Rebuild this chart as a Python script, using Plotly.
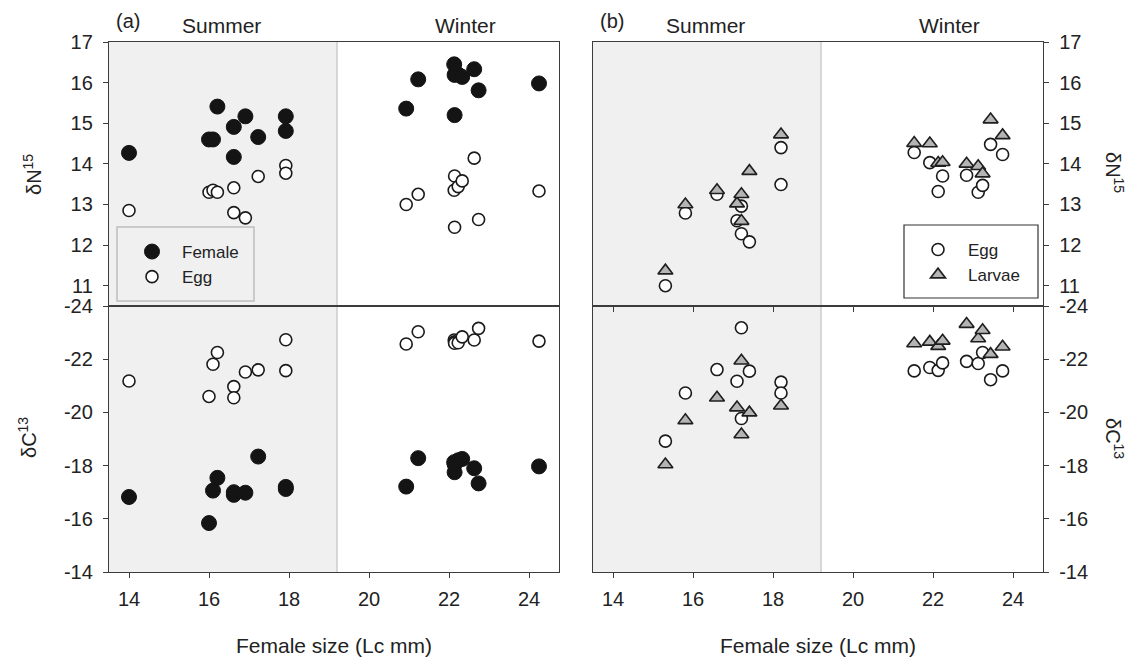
import plotly.graph_objects as go

# ---------------- data ----------------
# Panel (a): female size, female & egg isotopes (summer then winter)
a_size = [14.0, 16.0, 16.1, 16.21, 16.62, 16.62, 16.91, 17.23, 17.92, 17.92,
          20.93, 21.23, 22.13, 22.14, 22.14, 22.23, 22.33, 22.63, 22.74, 24.25]
a_female_n15 = [14.27, 14.60, 14.60, 15.41, 14.91, 14.17, 15.17, 14.66, 15.17, 14.81,
                15.36, 16.08, 16.45, 16.19, 15.20, 16.20, 16.14, 16.33, 15.81, 15.98]
a_egg_n15 = [12.85, 13.30, 13.35, 13.30, 13.41, 12.80, 12.67, 13.69, 13.96, 13.77,
             13.00, 13.25, 13.35, 13.70, 12.44, 13.44, 13.58, 14.14, 12.63, 13.33]
a_female_c13 = [-16.82, -15.84, -17.06, -17.54, -17.00, -16.90, -16.98, -18.34, -17.20, -17.12,
                -17.21, -18.28, -18.13, -17.75, -18.05, -18.20, -18.25, -17.90, -17.33, -17.97]
a_egg_c13 = [-21.18, -20.60, -21.81, -22.25, -20.97, -20.55, -21.52, -21.60, -22.73, -21.57,
             -22.57, -23.03, -22.72, -22.65, -22.60, -22.62, -22.84, -22.72, -23.16, -22.68]

# Panel (b): egg and larvae isotopes vs female size
b_egg_size = [15.31, 15.81, 16.6, 17.1, 17.21, 17.21, 17.41, 18.2, 18.2,
              21.53, 21.92, 22.13, 22.24, 22.84, 23.13, 23.24, 23.44, 23.74]
b_egg_n15 = [11.00, 12.79, 13.25, 12.60, 12.96, 12.28, 12.08, 14.40, 13.49,
             14.28, 14.03, 13.32, 13.70, 13.72, 13.30, 13.47, 14.48, 14.23]
b_egg_c13 = [-18.92, -20.73, -21.61, -21.17, -23.18, -19.77, -21.55, -21.14, -20.73,
             -21.56, -21.69, -21.58, -21.86, -21.92, -21.84, -22.25, -21.23, -21.56]
b_larvae_size = [15.31, 15.81, 16.6, 17.1, 17.21, 17.21, 17.41, 18.2,
                 21.53, 21.92, 22.13, 22.24, 22.84, 23.13, 23.24, 23.44, 23.74]
b_larvae_n15 = [11.37, 13.00, 13.35, 13.02, 13.25, 12.59, 13.82, 14.72,
                14.51, 14.50, 14.02, 14.04, 14.00, 13.94, 13.76, 15.09, 14.70]
b_larvae_c13 = [-18.04, -19.70, -20.55, -20.18, -21.94, -19.17, -19.99, -20.25,
                -22.59, -22.65, -22.49, -22.69, -23.32, -22.78, -23.09, -22.19, -22.47]

x_ticks = [14, 16, 18, 20, 22, 24]
n15_ticks = [11, 12, 13, 14, 15, 16, 17]
c13_ticks = [-24, -22, -20, -18, -16, -14]
c13_tick_labels = ["-24", "-22", "-20", "-18", "-16", "-14"]
x_range = [13.5, 24.75]
n15_range = [10.5, 17]
c13_range = [-14, -24]
summer_limit = 19.2
season_labels = ["Summer", "Winter"]
panel_labels = ["(a)", "(b)"]
x_title = "Female size (Lc mm)"

# ---------------- layout helpers ----------------
W, H = 1135, 664
FONT = "Liberation Sans, Arial, sans-serif"
TXT = "#222222"
AXC = "#3c3c3c"

def px(x):
    return x / W

def py(y):
    return 1 - y / H

xa_dom = [px(109), px(559)]
xb_dom = [px(593), px(1043)]
ytop_dom = [py(306), py(42)]
ybot_dom = [py(572), py(306)]

fig = go.Figure()

female_marker = dict(symbol="circle", size=15, color="#141414", line=dict(color="#141414", width=1))
egg_marker = dict(symbol="circle", size=12, color="white", line=dict(color="#1a1a1a", width=1.6))
larvae_marker = dict(symbol="triangle-up", size=13, color="#b4b4b4", line=dict(color="#1e1e1e", width=1.6))

# panel (a)
fig.add_trace(go.Scatter(x=a_size, y=a_female_n15, mode="markers", marker=female_marker,
                         name="Female", legend="legend", xaxis="x", yaxis="y"))
fig.add_trace(go.Scatter(x=a_size, y=a_egg_n15, mode="markers", marker=egg_marker,
                         name="Egg", legend="legend", xaxis="x", yaxis="y"))
fig.add_trace(go.Scatter(x=a_size, y=a_female_c13, mode="markers", marker=female_marker,
                         name="Female", showlegend=False, xaxis="x2", yaxis="y2"))
fig.add_trace(go.Scatter(x=a_size, y=a_egg_c13, mode="markers", marker=egg_marker,
                         name="Egg", showlegend=False, xaxis="x2", yaxis="y2"))
# panel (b)
fig.add_trace(go.Scatter(x=b_egg_size, y=b_egg_n15, mode="markers", marker=egg_marker,
                         name="Egg", legend="legend2", xaxis="x3", yaxis="y3"))
fig.add_trace(go.Scatter(x=b_larvae_size, y=b_larvae_n15, mode="markers", marker=larvae_marker,
                         name="Larvae", legend="legend2", xaxis="x3", yaxis="y3"))
fig.add_trace(go.Scatter(x=b_egg_size, y=b_egg_c13, mode="markers", marker=egg_marker,
                         name="Egg", showlegend=False, xaxis="x4", yaxis="y4"))
fig.add_trace(go.Scatter(x=b_larvae_size, y=b_larvae_c13, mode="markers", marker=larvae_marker,
                         name="Larvae", showlegend=False, xaxis="x4", yaxis="y4"))

tickfont = dict(family=FONT, size=20, color=TXT)

def xaxis(dom, anchor, ticks, labels):
    return dict(domain=dom, anchor=anchor, range=x_range, tickvals=x_ticks,
                ticks=ticks, ticklen=5, tickcolor=AXC, tickwidth=1.2,
                showticklabels=labels, tickfont=tickfont, ticklabelstandoff=4,
                showline=True, linecolor=AXC, linewidth=1.3, mirror=True,
                showgrid=False, zeroline=False, automargin=False)

def yaxis(dom, anchor, rng, tv, tt, side):
    return dict(domain=dom, anchor=anchor, range=rng, tickvals=tv, ticktext=tt, side=side,
                ticks="outside", ticklen=5, tickcolor=AXC, tickwidth=1.2,
                tickfont=tickfont, ticklabelstandoff=6,
                showline=True, linecolor=AXC, linewidth=1.3, mirror=True,
                showgrid=False, zeroline=False, automargin=False)

shapes = []
for xr, yr in [("x", "y"), ("x2", "y2"), ("x3", "y3"), ("x4", "y4")]:
    shapes.append(dict(type="rect", xref=xr, yref=yr + " domain", x0=x_range[0], x1=summer_limit,
                       y0=0, y1=1, fillcolor="#f0f0f0", line=dict(width=0), layer="below"))
    shapes.append(dict(type="line", xref=xr, yref=yr + " domain", x0=summer_limit, x1=summer_limit,
                       y0=0, y1=1, line=dict(color="#cdcdcd", width=1.5), layer="below"))
# legend boxes
shapes.append(dict(type="rect", xref="paper", yref="paper", x0=px(117), x1=px(254),
                   y0=py(301), y1=py(227), fillcolor="#f0f0f0",
                   line=dict(color="#bdbdbd", width=1.5), layer="above"))
shapes.append(dict(type="rect", xref="paper", yref="paper", x0=px(904), x1=px(1038),
                   y0=py(298), y1=py(225), fillcolor="white",
                   line=dict(color="#333333", width=1.2), layer="above"))

annotations = []
def ann(text, x, y, size=21, angle=0):
    annotations.append(dict(text=text, x=px(x), y=py(y), xref="paper", yref="paper",
                            showarrow=False, textangle=angle, xanchor="center", yanchor="middle",
                            font=dict(family=FONT, size=size, color=TXT)))

ann(panel_labels[0], 128, 21, 20)
ann(season_labels[0], 221, 25)
ann(season_labels[1], 465, 25)
ann(panel_labels[1], 612, 21, 20)
ann(season_labels[0], 705, 25)
ann(season_labels[1], 949, 25)
ann(x_title, 334, 645)
ann(x_title, 818, 645)
ann("δN<sup>15</sup>", 33, 175, 20, -90)
ann("δC<sup>13</sup>", 27, 438, 20, -90)
ann("δN<sup>15</sup>", 1115, 172, 20, 90)
ann("δC<sup>13</sup>", 1115, 438, 20, 90)

legend_common = dict(xanchor="left", yanchor="top", bgcolor="rgba(0,0,0,0)", borderwidth=0,
                     font=dict(family=FONT, size=17, color=TXT), itemwidth=50, tracegroupgap=0)

fig.update_layout(
    width=W, height=H,
    margin=dict(l=0, r=0, t=0, b=0),
    paper_bgcolor="white", plot_bgcolor="white",
    xaxis=xaxis(xa_dom, "y", "", False),
    xaxis2=xaxis(xa_dom, "y2", "outside", True),
    xaxis3=xaxis(xb_dom, "y3", "outside", False),
    xaxis4=xaxis(xb_dom, "y4", "outside", True),
    yaxis=yaxis(ytop_dom, "x", n15_range, n15_ticks, [str(v) for v in n15_ticks], "left"),
    yaxis2=yaxis(ybot_dom, "x2", c13_range, c13_ticks, c13_tick_labels, "left"),
    yaxis3=yaxis(ytop_dom, "x3", n15_range, n15_ticks, [str(v) for v in n15_ticks], "right"),
    yaxis4=yaxis(ybot_dom, "x4", c13_range, c13_ticks, c13_tick_labels, "right"),
    shapes=shapes,
    annotations=annotations,
    legend=dict(x=px(122), y=py(234), **legend_common),
    legend2=dict(x=px(908), y=py(232), **legend_common),
    font=dict(family=FONT, color=TXT),
)

fig.write_html("out.html", config={"displayModeBar": False},
               post_script="document.body.style.margin='0';document.body.style.overflow='hidden';")
